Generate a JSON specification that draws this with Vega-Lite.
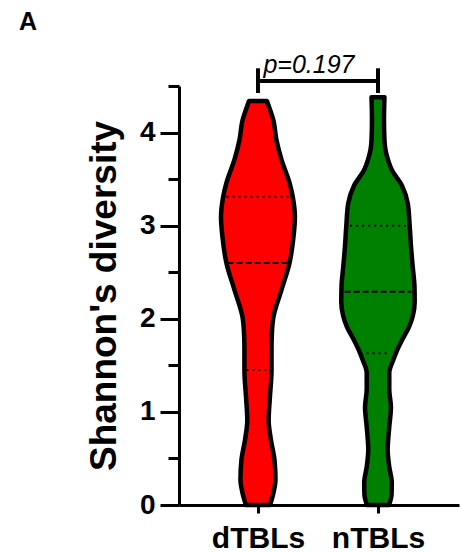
{
  "$schema": "https://vega.github.io/schema/vega-lite/v6.json",
  "width": 280,
  "height": 419,
  "autosize": {"type": "none"},
  "padding": {"left": 179, "top": 86, "right": 2, "bottom": 47},
  "background": "white",
  "title": {"text": "A", "anchor": "start", "frame": "group", "dx": -160, "dy": -14, "font": "Liberation Sans", "fontSize": 25, "fontWeight": "bold", "color": "black"},
  "config": {"view": {"stroke": null}, "font": "Liberation Sans"},
  "datasets": {
    "violin": [
      {"group": "dTBLs", "y": 0.0, "lo": 0.900, "hi": 1.100},
      {"group": "dTBLs", "y": 0.13, "lo": 0.871, "hi": 1.129},
      {"group": "dTBLs", "y": 0.27, "lo": 0.854, "hi": 1.146},
      {"group": "dTBLs", "y": 0.48, "lo": 0.862, "hi": 1.138},
      {"group": "dTBLs", "y": 0.70, "lo": 0.892, "hi": 1.108},
      {"group": "dTBLs", "y": 0.91, "lo": 0.911, "hi": 1.089},
      {"group": "dTBLs", "y": 1.13, "lo": 0.902, "hi": 1.098},
      {"group": "dTBLs", "y": 1.45, "lo": 0.887, "hi": 1.113},
      {"group": "dTBLs", "y": 1.67, "lo": 0.887, "hi": 1.113},
      {"group": "dTBLs", "y": 1.81, "lo": 0.885, "hi": 1.115},
      {"group": "dTBLs", "y": 2.02, "lo": 0.871, "hi": 1.129},
      {"group": "dTBLs", "y": 2.31, "lo": 0.804, "hi": 1.196},
      {"group": "dTBLs", "y": 2.60, "lo": 0.737, "hi": 1.263},
      {"group": "dTBLs", "y": 2.88, "lo": 0.704, "hi": 1.296},
      {"group": "dTBLs", "y": 3.09, "lo": 0.692, "hi": 1.308},
      {"group": "dTBLs", "y": 3.31, "lo": 0.710, "hi": 1.290},
      {"group": "dTBLs", "y": 3.46, "lo": 0.737, "hi": 1.263},
      {"group": "dTBLs", "y": 3.71, "lo": 0.804, "hi": 1.196},
      {"group": "dTBLs", "y": 3.92, "lo": 0.846, "hi": 1.154},
      {"group": "dTBLs", "y": 4.14, "lo": 0.873, "hi": 1.127},
      {"group": "dTBLs", "y": 4.24, "lo": 0.898, "hi": 1.102},
      {"group": "dTBLs", "y": 4.34, "lo": 0.925, "hi": 1.075},
      {"group": "nTBLs", "y": 0.0, "lo": 1.908, "hi": 2.092},
      {"group": "nTBLs", "y": 0.11, "lo": 1.887, "hi": 2.113},
      {"group": "nTBLs", "y": 0.24, "lo": 1.885, "hi": 2.115},
      {"group": "nTBLs", "y": 0.41, "lo": 1.906, "hi": 2.094},
      {"group": "nTBLs", "y": 0.59, "lo": 1.919, "hi": 2.081},
      {"group": "nTBLs", "y": 0.84, "lo": 1.906, "hi": 2.094},
      {"group": "nTBLs", "y": 1.05, "lo": 1.892, "hi": 2.108},
      {"group": "nTBLs", "y": 1.24, "lo": 1.906, "hi": 2.094},
      {"group": "nTBLs", "y": 1.42, "lo": 1.906, "hi": 2.094},
      {"group": "nTBLs", "y": 1.56, "lo": 1.872, "hi": 2.128},
      {"group": "nTBLs", "y": 1.67, "lo": 1.838, "hi": 2.162},
      {"group": "nTBLs", "y": 1.77, "lo": 1.800, "hi": 2.200},
      {"group": "nTBLs", "y": 1.91, "lo": 1.742, "hi": 2.258},
      {"group": "nTBLs", "y": 2.03, "lo": 1.710, "hi": 2.290},
      {"group": "nTBLs", "y": 2.18, "lo": 1.694, "hi": 2.306},
      {"group": "nTBLs", "y": 2.35, "lo": 1.696, "hi": 2.304},
      {"group": "nTBLs", "y": 2.55, "lo": 1.710, "hi": 2.290},
      {"group": "nTBLs", "y": 2.76, "lo": 1.724, "hi": 2.276},
      {"group": "nTBLs", "y": 3.00, "lo": 1.736, "hi": 2.264},
      {"group": "nTBLs", "y": 3.24, "lo": 1.752, "hi": 2.248},
      {"group": "nTBLs", "y": 3.43, "lo": 1.800, "hi": 2.200},
      {"group": "nTBLs", "y": 3.60, "lo": 1.885, "hi": 2.115},
      {"group": "nTBLs", "y": 3.71, "lo": 1.917, "hi": 2.083},
      {"group": "nTBLs", "y": 3.81, "lo": 1.937, "hi": 2.063},
      {"group": "nTBLs", "y": 3.92, "lo": 1.946, "hi": 2.054},
      {"group": "nTBLs", "y": 4.14, "lo": 1.950, "hi": 2.050},
      {"group": "nTBLs", "y": 4.38, "lo": 1.946, "hi": 2.054}
    ],
    "quartiles": [
      {"group": "dTBLs", "stat": "quartile", "y": 3.31, "lo": 0.738, "hi": 1.262},
      {"group": "dTBLs", "stat": "median", "y": 2.60, "lo": 0.746, "hi": 1.254},
      {"group": "dTBLs", "stat": "quartile", "y": 1.45, "lo": 0.904, "hi": 1.096},
      {"group": "nTBLs", "stat": "quartile", "y": 3.00, "lo": 1.768, "hi": 2.232},
      {"group": "nTBLs", "stat": "median", "y": 2.29, "lo": 1.722, "hi": 2.278},
      {"group": "nTBLs", "stat": "quartile", "y": 1.63, "lo": 1.905, "hi": 2.095}
    ],
    "bracket": [
      {"x": 1, "x2": 2, "y": 4.555, "y2": 4.555},
      {"x": 1, "x2": 1, "y": 4.425, "y2": 4.69},
      {"x": 2, "x2": 2, "y": 4.425, "y2": 4.69}
    ],
    "pval": [
      {"x": 1.5, "y": 4.64, "label": "p=0.197"}
    ]
  },
  "layer": [
    {
      "data": {"name": "violin"},
      "mark": {"type": "area", "orient": "horizontal", "interpolate": "monotone", "stroke": "black", "strokeWidth": 4.5, "strokeJoin": "round", "fillOpacity": 1},
      "encoding": {
        "y": {"field": "y", "type": "quantitative", "sort": null,
          "scale": {"domain": [0, 4.5], "nice": false, "zero": false},
          "axis": {
            "values": [0, 0.5, 1, 1.5, 2, 2.5, 3, 3.5, 4, 4.5],
            "labelExpr": "datum.value % 1 ? '' : format(datum.value, 'd')",
            "tickSize": {"condition": {"test": "datum.value % 1", "value": 11}, "value": 19},
            "tickWidth": 3, "tickColor": "black",
            "domainWidth": 3, "domainColor": "black",
            "grid": false,
            "labelFont": "Liberation Sans", "labelFontSize": 28, "labelFontWeight": "bold", "labelColor": "black",
            "labelPadding": 5, "labelOverlap": false, "labelFlush": false,
            "title": "Shannon's diversity",
            "titleFont": "Liberation Sans", "titleFontSize": 37, "titleFontWeight": "bold", "titleColor": "black",
            "titlePadding": 16
          }
        },
        "x": {"field": "lo", "type": "quantitative",
          "scale": {"domain": [0.342, 2.675], "nice": false, "zero": false},
          "axis": {
            "values": [1, 2],
            "labelExpr": "datum.value == 1 ? 'dTBLs' : 'nTBLs'",
            "title": null, "grid": false,
            "domainWidth": 3, "domainColor": "black",
            "tickWidth": 3, "tickColor": "black", "tickSize": 8,
            "labelFont": "Liberation Sans", "labelFontSize": 30, "labelFontWeight": "bold", "labelColor": "black",
            "labelPadding": 10, "labelFlush": false, "labelOverlap": false
          }
        },
        "x2": {"field": "hi"},
        "color": {"field": "group", "type": "nominal", "scale": {"domain": ["dTBLs", "nTBLs"], "range": ["#ff0000", "#008000"]}, "legend": null}
      }
    },
    {
      "data": {"name": "quartiles"},
      "mark": {"type": "rule", "color": "black", "strokeWidth": 2},
      "encoding": {
        "x": {"field": "lo", "type": "quantitative"},
        "x2": {"field": "hi"},
        "y": {"field": "y", "type": "quantitative"},
        "strokeDash": {"field": "stat", "type": "nominal", "scale": {"domain": ["median", "quartile"], "range": [[6, 3], [2, 4]]}, "legend": null}
      }
    },
    {
      "data": {"name": "bracket"},
      "mark": {"type": "rule", "color": "black", "strokeWidth": 4},
      "encoding": {
        "x": {"field": "x", "type": "quantitative"},
        "x2": {"field": "x2"},
        "y": {"field": "y", "type": "quantitative"},
        "y2": {"field": "y2"}
      }
    },
    {
      "data": {"name": "pval"},
      "mark": {"type": "text", "font": "Liberation Sans", "fontSize": 25, "fontStyle": "italic", "color": "black", "baseline": "alphabetic", "align": "center", "dx": -9},
      "encoding": {
        "x": {"field": "x", "type": "quantitative"},
        "y": {"field": "y", "type": "quantitative"},
        "text": {"field": "label"}
      }
    }
  ]
}
